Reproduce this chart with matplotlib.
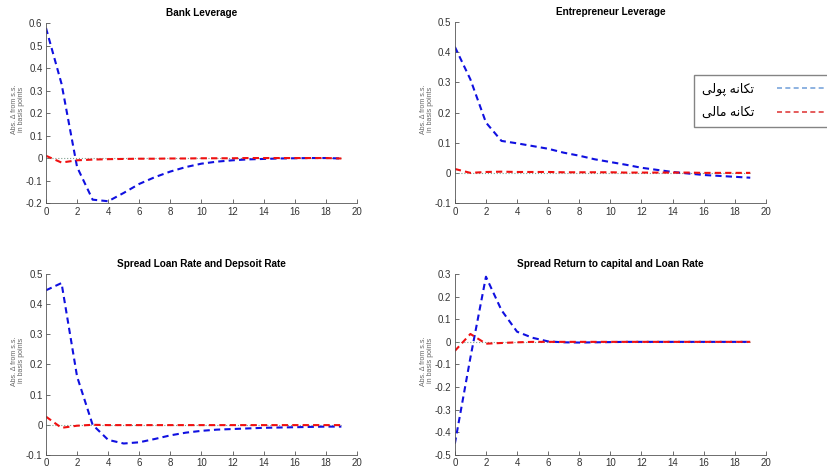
import numpy as np
import matplotlib
matplotlib.use("Agg")
import matplotlib.pyplot as plt
from matplotlib.lines import Line2D

plt.rcParams['font.family'] = ['Liberation Sans', 'DejaVu Sans']

# quarters after the shock
t = np.arange(20)

# Bank Leverage
bank_mon = [0.578, 0.33, -0.04, -0.185, -0.192, -0.155, -0.115, -0.085, -0.06, -0.04,
            -0.025, -0.016, -0.01, -0.006, -0.004, -0.002, -0.001, 0.0, 0.0, -0.002]
bank_fin = [0.01, -0.02, -0.01, -0.007, -0.005, -0.004, -0.003, -0.003, -0.002, -0.002,
            -0.001, -0.001, -0.001, 0.0, 0.0, 0.0, 0.0, 0.0, 0.0, -0.002]

# Entrepreneur Leverage
ent_mon = [0.418, 0.31, 0.167, 0.106, 0.098, 0.089, 0.08, 0.067, 0.057, 0.045,
           0.036, 0.027, 0.017, 0.01, 0.003, -0.002, -0.007, -0.01, -0.013, -0.016]
ent_fin = [0.013, 0.0, 0.003, 0.004, 0.003, 0.003, 0.003, 0.002, 0.002, 0.002,
           0.002, 0.001, 0.001, 0.001, 0.001, 0.001, 0.0, 0.0, 0.0, 0.0]

# Spread Loan Rate and Deposit Rate
sld_mon = [0.446, 0.47, 0.16, 0.0, -0.05, -0.062, -0.058, -0.047, -0.035, -0.026,
           -0.02, -0.016, -0.014, -0.012, -0.01, -0.009, -0.008, -0.007, -0.006, -0.006]
sld_fin = [0.027, -0.01, -0.003, 0.0, -0.001, -0.001, -0.001, -0.001, -0.001, -0.001,
           -0.001, -0.001, -0.001, -0.001, -0.001, -0.001, -0.001, -0.001, -0.001, -0.001]

# Spread Return to capital and Loan Rate
srk_mon = [-0.45, -0.07, 0.288, 0.14, 0.045, 0.018, 0.002, -0.002, -0.003, -0.002,
           -0.001, 0.0, 0.0, 0.0, 0.0, 0.0, 0.0, 0.0, 0.0, 0.0]
srk_fin = [-0.04, 0.035, -0.008, -0.005, -0.002, 0.0, 0.0, 0.0, 0.0, 0.0,
           0.0, 0.0, 0.0, 0.0, 0.0, 0.0, 0.0, 0.0, 0.0, 0.0]

titles = ["Bank Leverage", "Entrepreneur Leverage",
          "Spread Loan Rate and Depsoit Rate", "Spread Return to capital and Loan Rate"]
monetary = [bank_mon, ent_mon, sld_mon, srk_mon]
financial = [bank_fin, ent_fin, sld_fin, srk_fin]
yticks = [[-0.2, -0.1, 0, 0.1, 0.2, 0.3, 0.4, 0.5, 0.6],
          [-0.1, 0, 0.1, 0.2, 0.3, 0.4, 0.5],
          [-0.1, 0, 0.1, 0.2, 0.3, 0.4, 0.5],
          [-0.5, -0.4, -0.3, -0.2, -0.1, 0, 0.1, 0.2, 0.3]]

# Persian legend labels (presentation forms, display order)
label_mon = "\uFBFD\uFEDF\uFEEE\uFB58 \uFEEA\uFEE7\uFE8E\uFB91\uFE97"   # تکانه پولی
label_fin = "\uFBFD\uFEDF\uFE8E\uFEE3 \uFEEA\uFEE7\uFE8E\uFB91\uFE97"   # تکانه مالی

fig = plt.figure(figsize=(8.27, 4.70), dpi=100)
positions = [[0.0556, 0.568, 0.376, 0.383], [0.550, 0.568, 0.376, 0.385],
             [0.0556, 0.032, 0.376, 0.385], [0.550, 0.032, 0.376, 0.385]]

axis_col = '#555555'
xt = list(range(0, 21, 2))
for i in range(4):
    ax = fig.add_axes(positions[i])
    ax.plot(t, np.zeros(len(t)), ':', color='#7f9f8f', lw=0.8)
    ax.plot(t, monetary[i], color='#1010e0', lw=1.5, dashes=(3, 2))
    ax.plot(t, financial[i], color='#f01010', lw=1.5, dashes=(3, 2))
    ax.set_xlim(0, 20)
    ax.set_ylim(yticks[i][0], yticks[i][-1])
    ax.set_xticks(xt)
    ax.set_xticklabels([str(v) for v in xt])
    ax.set_yticks(yticks[i])
    ax.set_yticklabels([f"{v:g}" for v in yticks[i]])
    ax.set_title(titles[i], fontsize=7.2, fontweight='bold', pad=5)
    ax.set_ylabel("Abs. \u0394 from s.s.\nin basis points", fontsize=5,
                  color='#666666', linespacing=0.95)
    ax.yaxis.set_label_coords(-0.068, 0.52)
    for s in ['top', 'right']:
        ax.spines[s].set_visible(False)
    for s in ['left', 'bottom']:
        ax.spines[s].set_color(axis_col)
        ax.spines[s].set_linewidth(0.6)
    ax.tick_params(direction='in', length=3, width=0.6, colors=axis_col,
                   labelsize=7, labelcolor='#333333', pad=2.5)

handles = [Line2D([], [], color='#7aa6dc', lw=1.2, dashes=(3, 2)),
           Line2D([], [], color='#e04040', lw=1.2, dashes=(3, 2))]
fig.legend(handles, [label_mon, label_fin], loc='upper left',
           bbox_to_anchor=(688 / 827, 1 - 69 / 470), markerfirst=False,
           fontsize=9, frameon=True, fancybox=False, edgecolor='#666666',
           handlelength=5.5, handletextpad=1.8, borderpad=0.6, labelspacing=0.9)

fig.savefig("out.png", dpi=100)
